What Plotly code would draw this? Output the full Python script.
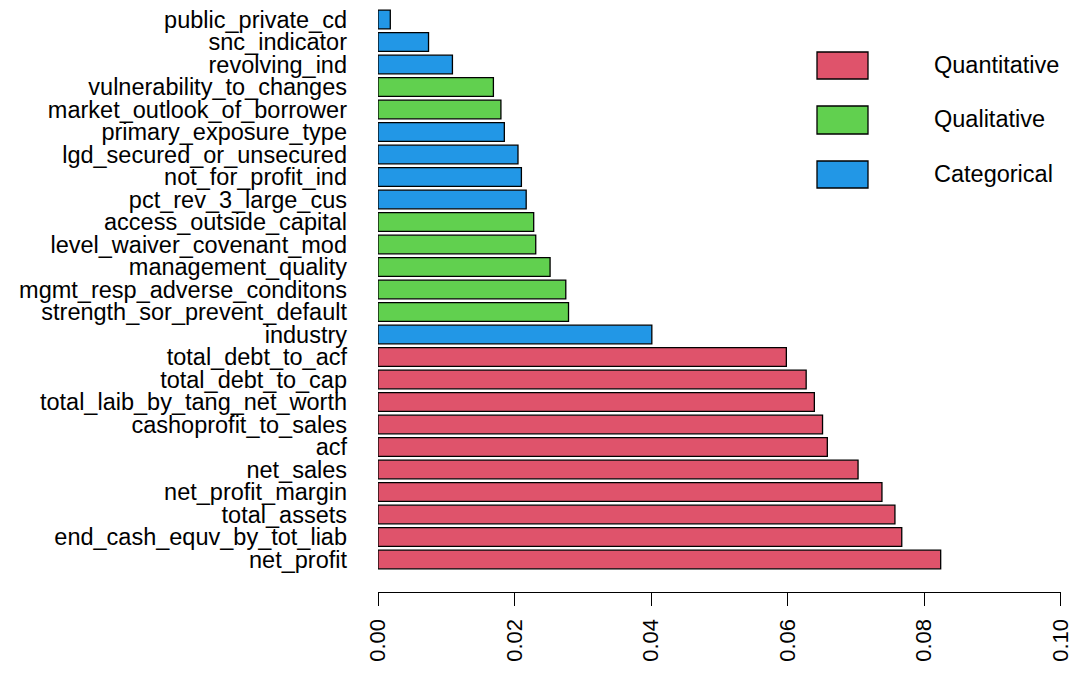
import plotly.graph_objects as go

# Data listed from bottom bar to top bar
features = [
    "net_profit", "end_cash_equv_by_tot_liab", "total_assets", "net_profit_margin",
    "net_sales", "acf", "cashoprofit_to_sales", "total_laib_by_tang_net_worth",
    "total_debt_to_cap", "total_debt_to_acf", "industry",
    "strength_sor_prevent_default", "mgmt_resp_adverse_conditons", "management_quality",
    "level_waiver_covenant_mod", "access_outside_capital", "pct_rev_3_large_cus",
    "not_for_profit_ind", "lgd_secured_or_unsecured", "primary_exposure_type",
    "market_outlook_of_borrower", "vulnerability_to_changes", "revolving_ind",
    "snc_indicator", "public_private_cd",
]
importance = [
    0.0824, 0.0767, 0.0757, 0.0738,
    0.0703, 0.0658, 0.0651, 0.0639,
    0.0627, 0.0598, 0.0401,
    0.0279, 0.0275, 0.0252,
    0.0231, 0.0228, 0.0217,
    0.0210, 0.0205, 0.0185,
    0.0180, 0.0169, 0.0109,
    0.0074, 0.0018,
]
groups = [
    "Quantitative", "Quantitative", "Quantitative", "Quantitative",
    "Quantitative", "Quantitative", "Quantitative", "Quantitative",
    "Quantitative", "Quantitative", "Categorical",
    "Qualitative", "Qualitative", "Qualitative",
    "Qualitative", "Qualitative", "Categorical",
    "Categorical", "Categorical", "Categorical",
    "Qualitative", "Qualitative", "Categorical",
    "Categorical", "Categorical",
]
legend_labels = ["Quantitative", "Qualitative", "Categorical"]
x_ticks = [0.00, 0.02, 0.04, 0.06, 0.08, 0.10]

group_colors = {"Quantitative": "#DF536B", "Qualitative": "#61D04F", "Categorical": "#2297E6"}

FONT = "Liberation Sans, Arial, Helvetica, sans-serif"
W, H = 1071, 673
L, R, T, B = 378, 10, 0, 81
pw, ph = W - L - R, H - T - B

fig = go.Figure()
fig.add_trace(go.Bar(
    x=importance, y=features, orientation="h",
    marker=dict(color=[group_colors[g] for g in groups],
                line=dict(color="black", width=1.3)),
    showlegend=False, hoverinfo="x+y",
))

# Manual legend (large boxes as in the reference)
box_px = [(52, 79), (106, 134), (161, 188)]
for lab, (y0, y1) in zip(legend_labels, box_px):
    fig.add_shape(type="rect", xref="paper", yref="paper",
                  x0=(817 - L) / pw, x1=(868 - L) / pw,
                  y0=1 - (y1 - T) / ph, y1=1 - (y0 - T) / ph,
                  fillcolor=group_colors[lab], line=dict(color="black", width=1.3))
    fig.add_annotation(xref="paper", yref="paper",
                       x=(932 - L) / pw, y=1 - ((y0 + y1) / 2 - 1 - T) / ph,
                       text=lab, showarrow=False, xanchor="left", yanchor="middle",
                       font=dict(family=FONT, size=23.5, color="black"))

n = len(features)
pitch = 22.5
fig.update_layout(
    width=W, height=H,
    margin=dict(l=L, r=R, t=T, b=B, pad=0),
    paper_bgcolor="white", plot_bgcolor="white",
    bargap=0.1667,
    font=dict(family=FONT, color="black"),
    xaxis=dict(
        range=[0, 0.10002], tickmode="array", tickvals=x_ticks,
        ticktext=[f"{v:.2f}" for v in x_ticks],
        showgrid=False, zeroline=False, showline=True, linecolor="black", linewidth=1.3,
        ticks="outside", ticklen=13, tickwidth=1.3, tickcolor="black",
        tickangle=-90, tickfont=dict(family=FONT, size=22, color="black"),
        ticklabelstandoff=4, automargin=False, ticklabeloverflow="allow",
    ),
    yaxis=dict(
        type="category", categoryorder="array", categoryarray=features,
        tickmode="array", tickvals=features, ticktext=features,
        range=[-(592 - 559.5) / pitch, (n - 1) + 19.5 / pitch],
        showgrid=False, zeroline=False, showline=False, ticks="",
        tickfont=dict(family=FONT, size=23.5, color="black"),
        ticklabelstandoff=30, automargin=False,
    ),
)

fig.write_html(
    "out.html",
    config={"displayModeBar": False},
    post_script="document.body.style.margin='0';document.body.style.overflow='hidden';",
)
